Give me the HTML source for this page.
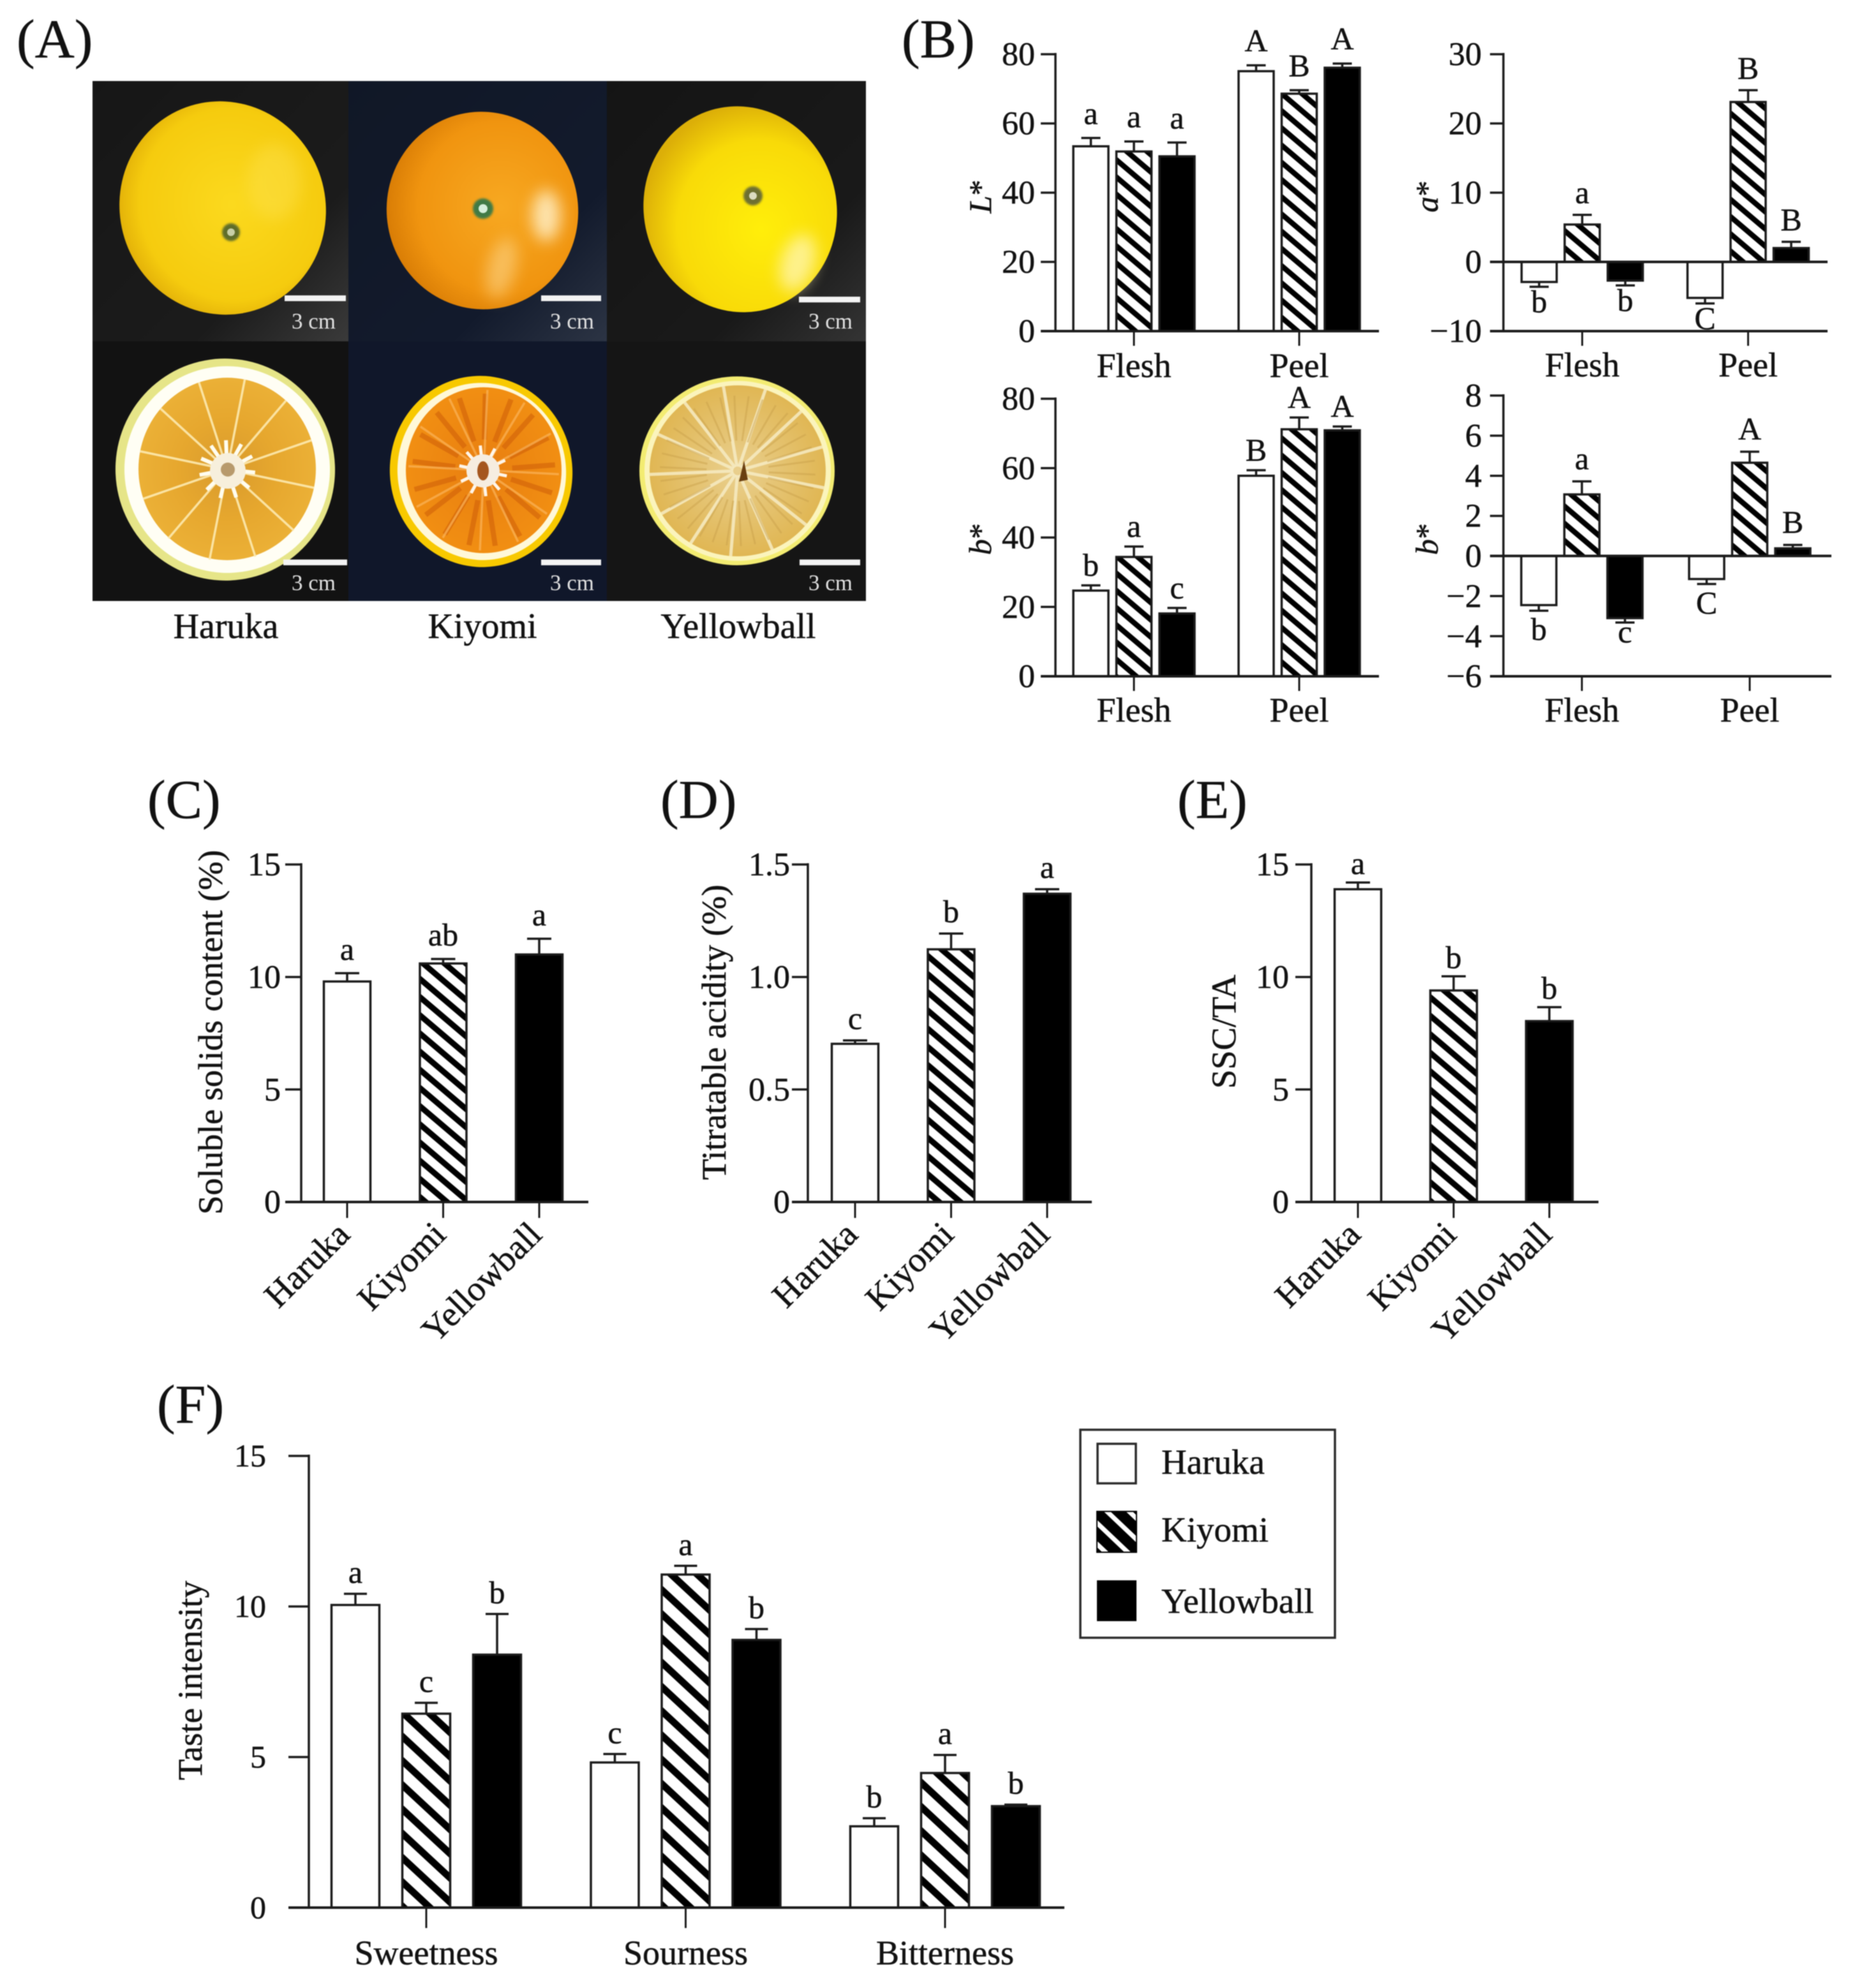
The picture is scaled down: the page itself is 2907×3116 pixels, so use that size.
<!DOCTYPE html>
<html lang="en">
<head>
<meta charset="utf-8">
<title>Citrus fruit quality comparison</title>
<style>
html,body{margin:0;padding:0;background:#fff;}
#figure{display:block;width:2907px;height:3116px;filter:blur(0.8px);font-family:"Liberation Serif",serif;}
#figure text{font-family:"Liberation Serif",serif;fill:#111;stroke:#111;stroke-width:0.5px;}
#figure .panel{font-size:86px;}
#figure .photo-cap{font-size:56px;text-anchor:middle;}
#figure .scale-text{font-size:35px;fill:#e2e2e2;stroke:none;}
#figure .legend-text{font-size:55px;}
</style>
</head>
<body>
<svg id="figure" xmlns="http://www.w3.org/2000/svg" width="2907" height="3116" viewBox="0 0 2907 3116">
  <defs id="defs">
    <radialGradient id="gradHaruka" cx="55%" cy="50%" r="60%"><stop offset="0" stop-color="#fbd91e"/><stop offset="0.75" stop-color="#f5cb0e"/><stop offset="1" stop-color="#dba606"/></radialGradient>
    <radialGradient id="gradKiyomi" cx="60%" cy="50%" r="62%"><stop offset="0" stop-color="#f7a821"/><stop offset="0.7" stop-color="#f0940f"/><stop offset="1" stop-color="#d67a04"/></radialGradient>
    <radialGradient id="gradYellow" cx="58%" cy="62%" r="62%"><stop offset="0" stop-color="#ffee0a"/><stop offset="0.7" stop-color="#f8da08"/><stop offset="1" stop-color="#dcaf08"/></radialGradient>
    <radialGradient id="gradFleshK" cx="50%" cy="50%" r="55%"><stop offset="0" stop-color="#e87e10"/><stop offset="1" stop-color="#f29012"/></radialGradient>
    <radialGradient id="gradFleshH" cx="50%" cy="50%" r="55%"><stop offset="0" stop-color="#d89a2c"/><stop offset="0.5" stop-color="#e6a72e"/><stop offset="1" stop-color="#ecb238"/></radialGradient>
    <radialGradient id="gradFleshY" cx="50%" cy="50%" r="55%"><stop offset="0" stop-color="#e9cf8e"/><stop offset="1" stop-color="#dfb44e"/></radialGradient>
    <linearGradient id="gradCell1" x1="0" y1="0" x2="1" y2="1"><stop offset="0" stop-color="#161616"/><stop offset="0.7" stop-color="#1b1b1b"/><stop offset="1" stop-color="#3a3a3a"/></linearGradient>
    <linearGradient id="gradCell2" x1="0" y1="0" x2="1" y2="1"><stop offset="0" stop-color="#101726"/><stop offset="0.7" stop-color="#121a2c"/><stop offset="1" stop-color="#2c3444"/></linearGradient>
    <linearGradient id="gradCell3" x1="0" y1="0" x2="1" y2="1"><stop offset="0" stop-color="#141414"/><stop offset="0.7" stop-color="#191919"/><stop offset="1" stop-color="#343434"/></linearGradient>
    <filter id="soft" x="-50%" y="-50%" width="200%" height="200%"><feGaussianBlur stdDeviation="12"/></filter>
    <filter id="softSmall" x="-20%" y="-20%" width="140%" height="140%"><feGaussianBlur stdDeviation="1.6"/></filter>
  </defs>

  <text class="panel" x="26" y="90">(A)</text>
  <text class="panel" x="1413" y="90">(B)</text>
  <text class="panel" x="231" y="1282">(C)</text>
  <text class="panel" x="1035" y="1282">(D)</text>
  <text class="panel" x="1845" y="1282">(E)</text>
  <text class="panel" x="246" y="2230">(F)</text>

  <g>
    <rect x="145" y="127" width="401" height="408" fill="url(#gradCell1)"/>
    <rect x="546" y="127" width="405" height="408" fill="url(#gradCell2)"/>
    <rect x="951" y="127" width="406" height="408" fill="url(#gradCell3)"/>
    <rect x="145" y="535" width="401" height="407" fill="#121212"/>
    <rect x="546" y="535" width="405" height="407" fill="#10172a"/>
    <rect x="951" y="535" width="406" height="407" fill="#151515"/>

    <g>
      <ellipse cx="349" cy="326" rx="161" ry="168" transform="rotate(-20 349 326)" fill="url(#gradHaruka)"/>
      <ellipse cx="430" cy="285" rx="42" ry="60" fill="#ffe96a" opacity="0.3" filter="url(#soft)"/>
      <circle cx="362" cy="364" r="14" fill="#5f6d2c" filter="url(#softSmall)"/><circle cx="362" cy="364" r="6" fill="#c8cfa8"/>
    </g>
    <g>
      <ellipse cx="756" cy="330" rx="150" ry="155" transform="rotate(-10 756 330)" fill="url(#gradKiyomi)"/>
      <ellipse cx="856" cy="338" rx="22" ry="40" fill="#fff0c8" opacity="0.85" filter="url(#soft)"/>
      <ellipse cx="786" cy="420" rx="22" ry="48" fill="#fcd58a" opacity="0.6" transform="rotate(14 786 420)" filter="url(#soft)"/>
      <circle cx="757" cy="327" r="16" fill="#3f7a44" filter="url(#softSmall)"/><circle cx="757" cy="327" r="7" fill="#d6efdc"/>
    </g>
    <g>
      <ellipse cx="1160" cy="328" rx="151" ry="162" transform="rotate(-14 1160 328)" fill="url(#gradYellow)"/>
      <ellipse cx="1250" cy="412" rx="26" ry="46" fill="#fff6b8" opacity="0.75" transform="rotate(18 1250 412)" filter="url(#soft)"/>
      <circle cx="1180" cy="307" r="15" fill="#6d7030" filter="url(#softSmall)"/><circle cx="1180" cy="307" r="6" fill="#dcdcc0"/>
    </g>
    <g id="cutHaruka">
      <ellipse cx="353" cy="736" rx="172" ry="174" transform="rotate(-8 353 736)" fill="#e6e588"/>
      <ellipse cx="356" cy="736" rx="161" ry="162" transform="rotate(-8 356 736)" fill="#fffef4"/>
      <ellipse cx="356" cy="735" rx="139" ry="143" fill="url(#gradFleshH)"/>
    </g>
    <g id="cutKiyomi">
      <ellipse cx="754" cy="739" rx="143" ry="150" transform="rotate(-8 754 739)" fill="#f8c900"/>
      <ellipse cx="755" cy="739" rx="132" ry="139" transform="rotate(-8 755 739)" fill="#fff8d8"/>
      <ellipse cx="758" cy="737" rx="122" ry="130" fill="url(#gradFleshK)"/>
    </g>
    <g id="cutYellow">
      <ellipse cx="1155" cy="738" rx="153" ry="148" fill="#f3ec72"/>
      <ellipse cx="1156" cy="738" rx="146" ry="141" fill="#fbf4bc"/>
      <ellipse cx="1156" cy="738" rx="138" ry="134" fill="url(#gradFleshY)"/>
    </g>

    <rect x="446" y="463" width="96" height="9" fill="#f4f4f4"/>
    <rect x="848" y="463" width="94" height="9" fill="#f4f4f4"/>
    <rect x="1252" y="465" width="96" height="9" fill="#f4f4f4"/>
    <rect x="444" y="877" width="100" height="9" fill="#f4f4f4"/>
    <rect x="848" y="877" width="94" height="9" fill="#f4f4f4"/>
    <rect x="1253" y="877" width="95" height="9" fill="#f4f4f4"/>
    <text class="scale-text" x="457" y="515">3 cm</text>
    <text class="scale-text" x="862" y="515">3 cm</text>
    <text class="scale-text" x="1267" y="515">3 cm</text>
    <text class="scale-text" x="457" y="925">3 cm</text>
    <text class="scale-text" x="862" y="925">3 cm</text>
    <text class="scale-text" x="1267" y="925">3 cm</text>
  </g>
  <text class="photo-cap" x="354" y="1000">Haruka</text>
  <text class="photo-cap" x="756" y="1000">Kiyomi</text>
  <text class="photo-cap" x="1157" y="1000">Yellowball</text>

  <g>
    <rect x="1693" y="2241" width="399" height="326" fill="#fff" stroke="#2a2a2a" stroke-width="3.5"/>
    <rect x="1720" y="2263" width="60" height="62" fill="#fff" stroke="#2a2a2a" stroke-width="3.5"/>
    <rect x="1719" y="2369" width="62" height="64" fill="url(#hatchLegend)" stroke="#000" stroke-width="2"/>
    <rect x="1719" y="2477" width="62" height="64" fill="#000"/>
    <text class="legend-text" x="1820" y="2310">Haruka</text>
    <text class="legend-text" x="1820" y="2416">Kiyomi</text>
    <text class="legend-text" x="1820" y="2528">Yellowball</text>
  </g>
</svg>

<script>
/* ---------- chart data ---------- */
const colorGroups = ['Flesh', 'Peel'];
const cultivars = ['Haruka', 'Kiyomi', 'Yellowball'];
const tastes = ['Sweetness', 'Sourness', 'Bitterness'];

const lValues = [53.4, 51.9, 50.5, 75.1, 68.6, 76.1];
const lErrors = [2.4, 2.9, 4.0, 1.7, 1.0, 1.2];
const lLetters = ['a', 'a', 'a', 'A', 'B', 'A'];
const lTicks = [0, 20, 40, 60, 80];
const lTickLabels = ['0', '20', '40', '60', '80'];

const aValues = [-2.9, 5.4, -2.7, -5.2, 23.1, 2.0];
const aErrors = [0.7, 1.4, 0.7, 0.8, 1.7, 0.9];
const aLetters = ['b', 'a', 'b', 'C', 'B', 'B'];
const aTicks = [-10, 0, 10, 20, 30];
const aTickLabels = ['\u221210', '0', '10', '20', '30'];

const bFleshValues = [24.7, 34.4, 18.1, 57.8, 71.2, 70.9];
const bFleshErrors = [1.5, 3.0, 1.6, 1.6, 3.4, 1.1];
const bFleshLetters = ['b', 'a', 'c', 'B', 'A', 'A'];
const bFleshTicks = [0, 20, 40, 60, 80];
const bFleshTickLabels = ['0', '20', '40', '60', '80'];

const bPeelValues = [-2.45, 3.07, -3.1, -1.15, 4.65, 0.38];
const bPeelErrors = [0.28, 0.65, 0.22, 0.25, 0.55, 0.17];
const bPeelLetters = ['b', 'a', 'c', 'C', 'A', 'B'];
const bPeelTicks = [-6, -4, -2, 0, 2, 4, 6, 8];
const bPeelTickLabels = ['\u22126', '\u22124', '\u22122', '0', '2', '4', '6', '8'];

const sscValues = [9.8, 10.6, 11.0];
const sscErrors = [0.37, 0.2, 0.7];
const sscLetters = ['a', 'ab', 'a'];
const sscTicks = [0, 5, 10, 15];
const sscTickLabels = ['0', '5', '10', '15'];

const taValues = [0.703, 1.123, 1.37];
const taErrors = [0.015, 0.07, 0.02];
const taLetters = ['c', 'b', 'a'];
const taTicks = [0, 0.5, 1.0, 1.5];
const taTickLabels = ['0', '0.5', '1.0', '1.5'];

const ratioValues = [13.9, 9.4, 8.04];
const ratioErrors = [0.3, 0.63, 0.62];
const ratioLetters = ['a', 'b', 'b'];
const ratioTicks = [0, 5, 10, 15];
const ratioTickLabels = ['0', '5', '10', '15'];

const tasteValues = [10.05, 6.44, 8.4, 4.82, 11.06, 8.89, 2.7, 4.47, 3.37];
const tasteErrors = [0.37, 0.36, 1.35, 0.28, 0.29, 0.36, 0.27, 0.6, 0.05];
const tasteLetters = ['a', 'c', 'b', 'c', 'a', 'b', 'b', 'a', 'b'];
const tasteTicks = [0, 5, 10, 15];
const tasteTickLabels = ['0', '5', '10', '15'];

/* ---------- helpers ---------- */
const SVGNS = 'http://www.w3.org/2000/svg';
const svg = document.getElementById('figure');
const defs = document.getElementById('defs');

function el(tag, attrs, parent, text) {
  const node = document.createElementNS(SVGNS, tag);
  for (const k in attrs) node.setAttribute(k, attrs[k]);
  if (text !== undefined) node.textContent = text;
  parent.appendChild(node);
  return node;
}

function makeHatch(id, period, slope, thickness) {
  const w = period / slope;
  const p = el('pattern', {id: id, patternUnits: 'userSpaceOnUse', width: w, height: period}, defs);
  el('rect', {x: 0, y: 0, width: w, height: period, fill: '#fff'}, p);
  const d = 'M0 0L' + w + ' ' + period + 'V' + (period + thickness) + 'L0 ' + thickness + 'Z' +
            'M0 ' + (-period) + 'L' + w + ' 0V' + thickness + 'L0 ' + (thickness - period) + 'Z';
  el('path', {d: d, fill: '#000'}, p);
}
makeHatch('hatchB', 27, 0.85, 11);
makeHatch('hatchC', 28.5, 0.85, 12);
makeHatch('hatchE', 29, 0.85, 12);
makeHatch('hatchF', 38, 0.93, 15);
makeHatch('hatchLegend', 33, 0.95, 23);

/* ---------- chart renderer ---------- */
function drawChart(c) {
  const g = el('g', {}, svg);
  
  

  const lo = c.ticks[0];
  const hi = c.ticks[c.ticks.length - 1];
  const yScale = v => c.yBottom + (v - lo) / (hi - lo) * (c.yTop - c.yBottom);
  const groupX = i => c.groupStart + i * c.groupStep;
  const barX = i => groupX(Math.floor(i / c.groupSize)) + ((i % c.groupSize) - (c.groupSize - 1) / 2) * c.barStep;
  const stroke = '#1a1a1a';
  const fills = ['#fff', 'url(#' + c.hatch + ')', '#000'];
  const zeroY = yScale(Math.max(lo, 0));

  c.values.forEach((v, i) => {
    const cx = barX(i);
    const top = Math.min(yScale(v), zeroY);
    const h = Math.abs(yScale(v) - zeroY);
    const bar = el('rect', {x: cx - c.barW / 2, y: top, width: c.barW, height: h, fill: fills[i % 3], stroke: stroke, 'stroke-width': 3.5}, g);
    
    

    const sign = v >= 0 ? 1 : -1;
    const tipY = yScale(v + sign * c.errors[i]);
    const err = el('path', {d: 'M' + cx + ' ' + yScale(v) + 'V' + tipY + 'M' + (cx - c.capW / 2) + ' ' + tipY + 'H' + (cx + c.capW / 2), fill: 'none', stroke: stroke, 'stroke-width': 3.5}, g);
    
    

    const letter = c.letters[i];
    const small = letter === 'a' || letter === 'c';
    const ly = sign > 0 ? tipY - c.letterGap : tipY + c.letterGapNeg - (small ? 15 : 0);
    const lab = el('text', {x: cx, y: ly, 'text-anchor': 'middle', 'font-size': c.letterSize}, g, letter);
    
    
  });

  const yAxis = el('line', {x1: c.axisX, x2: c.axisX, y1: c.yTop - 2, y2: c.yBottom, stroke: stroke, 'stroke-width': 3.5}, g);
  
  
  const xAxis = el('line', {x1: c.axisLeft, x2: c.axisRight, y1: c.yBottom, y2: c.yBottom, stroke: stroke, 'stroke-width': 4}, g);
  
  
  if (lo < 0) {
    const zero = el('line', {x1: c.axisLeft, x2: c.axisRight, y1: zeroY, y2: zeroY, stroke: stroke, 'stroke-width': 4}, g);
    
    
  }

  c.ticks.forEach((t, i) => {
    const ty = yScale(t);
    const tick = el('line', {x1: c.axisLeft, x2: c.axisX, y1: ty, y2: ty, stroke: stroke, 'stroke-width': 3.5}, g);
    
    
    const label = el('text', {x: c.labelRight, y: ty + c.tickSize * 0.33, 'text-anchor': 'end', 'font-size': c.tickSize}, g, c.tickLabels[i]);
    
    
  });

  c.cats.forEach((name, i) => {
    const gx = groupX(i);
    const tick = el('line', {x1: gx, x2: gx, y1: c.yBottom, y2: c.yBottom + c.catTick, stroke: stroke, 'stroke-width': 3}, g);
    
    
    const attrs = c.catRotate
      ? {x: gx + 7, y: c.catY, 'text-anchor': 'end', 'font-size': 55, transform: 'rotate(-45 ' + (gx + 7) + ' ' + c.catY + ')'}
      : {x: gx, y: c.catY, 'text-anchor': 'middle', 'font-size': 54};
    const label = el('text', attrs, g, name);
    
    
  });

  const title = el('text', {x: 0, y: 0, 'text-anchor': 'middle', 'font-size': c.titleSize, transform: 'translate(' + c.titleX + ' ' + c.titleY + ') rotate(-90)'}, g);
  if (c.titleItalic) {
    const span = el('tspan', {'font-style': 'italic'}, title, c.titleItalic);
    
    
    el('tspan', {}, title, '*');
  } else {
    title.textContent = c.title;
  }
  
  
}

const panelB = {groupSize: 3, barStep: 67.5, barW: 55, capW: 30, hatch: 'hatchB', letterSize: 50, tickSize: 52, catTick: 23, titleSize: 50};

drawChart(Object.assign({}, panelB, {
  name: 'l-star-chart', values: lValues, errors: lErrors, letters: lLetters, ticks: lTicks, tickLabels: lTickLabels, cats: colorGroups,
  axisX: 1654, axisLeft: 1631, axisRight: 2161, yTop: 85, yBottom: 519, groupStart: 1777, groupStep: 259,
  labelRight: 1622, catY: 591, titleItalic: 'L', titleX: 1553, titleY: 308, letterGap: 22, letterGapNeg: 45
}));
drawChart(Object.assign({}, panelB, {
  name: 'a-star-chart', values: aValues, errors: aErrors, letters: aLetters, ticks: aTicks, tickLabels: aTickLabels, cats: colorGroups,
  axisX: 2356, axisLeft: 2335, axisRight: 2864, yTop: 85, yBottom: 519, groupStart: 2479.5, groupStep: 260,
  labelRight: 2322, catY: 590, titleItalic: 'a', titleX: 2253, titleY: 308, letterGap: 18, letterGapNeg: 40
}));
drawChart(Object.assign({}, panelB, {
  name: 'b-star-flesh-peel-chart', values: bFleshValues, errors: bFleshErrors, letters: bFleshLetters, ticks: bFleshTicks, tickLabels: bFleshTickLabels, cats: colorGroups,
  axisX: 1654, axisLeft: 1631, axisRight: 2161, yTop: 625, yBottom: 1060, groupStart: 1777, groupStep: 259,
  labelRight: 1622, catY: 1131, titleItalic: 'b', titleX: 1553, titleY: 845, letterGap: 15, letterGapNeg: 45
}));
drawChart(Object.assign({}, panelB, {
  name: 'b-star-second-chart', values: bPeelValues, errors: bPeelErrors, letters: bPeelLetters, ticks: bPeelTicks, tickLabels: bPeelTickLabels, cats: colorGroups,
  axisX: 2356, axisLeft: 2335, axisRight: 2870, yTop: 620, yBottom: 1060, groupStart: 2479, groupStep: 263,
  labelRight: 2322, catY: 1131, titleItalic: 'b', titleX: 2253, titleY: 845, letterGap: 19, letterGapNeg: 46
}));

const panelCDE = {groupSize: 1, barStep: 0, barW: 73, capW: 38, letterSize: 50, tickSize: 52, catTick: 25, catRotate: true, catY: 1938, cats: cultivars, letterGapNeg: 40, yTop: 1355, yBottom: 1884, titleSize: 54, titleY: 1618};

drawChart(Object.assign({}, panelCDE, {
  name: 'soluble-solids-chart', values: sscValues, errors: sscErrors, letters: sscLetters, ticks: sscTicks, tickLabels: sscTickLabels, hatch: 'hatchC',
  axisX: 472, axisLeft: 447, axisRight: 922, groupStart: 544, groupStep: 150.5, labelRight: 440,
  title: 'Soluble solids content (%)', titleX: 348, letterGap: 21
}));
drawChart(Object.assign({}, panelCDE, {
  name: 'titratable-acidity-chart', values: taValues, errors: taErrors, letters: taLetters, ticks: taTicks, tickLabels: taTickLabels, hatch: 'hatchC',
  axisX: 1266, axisLeft: 1241, axisRight: 1711, groupStart: 1340, groupStep: 150.5, labelRight: 1238,
  title: 'Titratable acidity (%)', titleX: 1137, letterGap: 18
}));
drawChart(Object.assign({}, panelCDE, {
  name: 'ssc-ta-ratio-chart', values: ratioValues, errors: ratioErrors, letters: ratioLetters, ticks: ratioTicks, tickLabels: ratioTickLabels, hatch: 'hatchE',
  axisX: 2055, axisLeft: 2030, axisRight: 2505, groupStart: 2128, groupStep: 150, labelRight: 2020,
  title: 'SSC/TA', titleX: 1936, titleY: 1617, letterGap: 13
}));

drawChart({
  name: 'taste-intensity-chart', values: tasteValues, errors: tasteErrors, letters: tasteLetters, ticks: tasteTicks, tickLabels: tasteTickLabels, cats: tastes,
  groupSize: 3, barStep: 111, barW: 75, capW: 36, hatch: 'hatchF', letterSize: 50, tickSize: 50, catTick: 32,
  axisX: 484, axisLeft: 452, axisRight: 1668, yTop: 2282, yBottom: 2990, groupStart: 668, groupStep: 406.5,
  labelRight: 417, catY: 3079, title: 'Taste intensity', titleSize: 54, titleX: 316, titleY: 2634, letterGap: 17, letterGapNeg: 40
});

/* ---------- photo detail for the cut fruit ---------- */
function spokes(parent, cx, cy, rx, ry, count, color, width, inner, opacity, turn) {
  for (let i = 0; i < count; i++) {
    const t = i / count * Math.PI * 2 + turn;
    el('line', {x1: cx + Math.cos(t) * rx * inner, y1: cy + Math.sin(t) * ry * inner, x2: cx + Math.cos(t) * rx, y2: cy + Math.sin(t) * ry, stroke: color, 'stroke-width': width, opacity: opacity}, parent);
  }
}
const cutH = document.getElementById('cutHaruka');
spokes(cutH, 356, 736, 139, 144, 12, '#fdeab0', 3.5, 0.1, 0.9, 0.2);
spokes(cutH, 356, 736, 44, 46, 11, '#fffdf0', 6, 0.3, 1, 0.1);
el('circle', {cx: 357, cy: 738, r: 28, fill: '#f7efdc'}, cutH);
el('circle', {cx: 357, cy: 736, r: 11, fill: '#b89a6c'}, cutH);
const cutK = document.getElementById('cutKiyomi');
spokes(cutK, 758, 737, 112, 120, 17, '#cf5e08', 8, 0.4, 0.55, 0.3);
spokes(cutK, 758, 737, 118, 126, 12, '#fbb45a', 3.5, 0.2, 0.7, 0.05);
spokes(cutK, 757, 738, 38, 40, 10, '#fff6ea', 5, 0.3, 1, 0.2);
el('circle', {cx: 757, cy: 738, r: 26, fill: '#f6ede0'}, cutK);
el('ellipse', {cx: 757, cy: 738, rx: 9, ry: 15, fill: '#a5561e'}, cutK);
const cutY = document.getElementById('cutYellow');
spokes(cutY, 1156, 738, 138, 134, 13, '#f7ecc4', 5, 0.05, 0.85, 0.2);
spokes(cutY, 1156, 738, 122, 118, 34, '#c9a04a', 3, 0.4, 0.45, 0.05);
el('path', {d: 'M1158 755L1166 722L1172 752Z', fill: '#6a3f10'}, cutY);
</script>
</body>
</html>
